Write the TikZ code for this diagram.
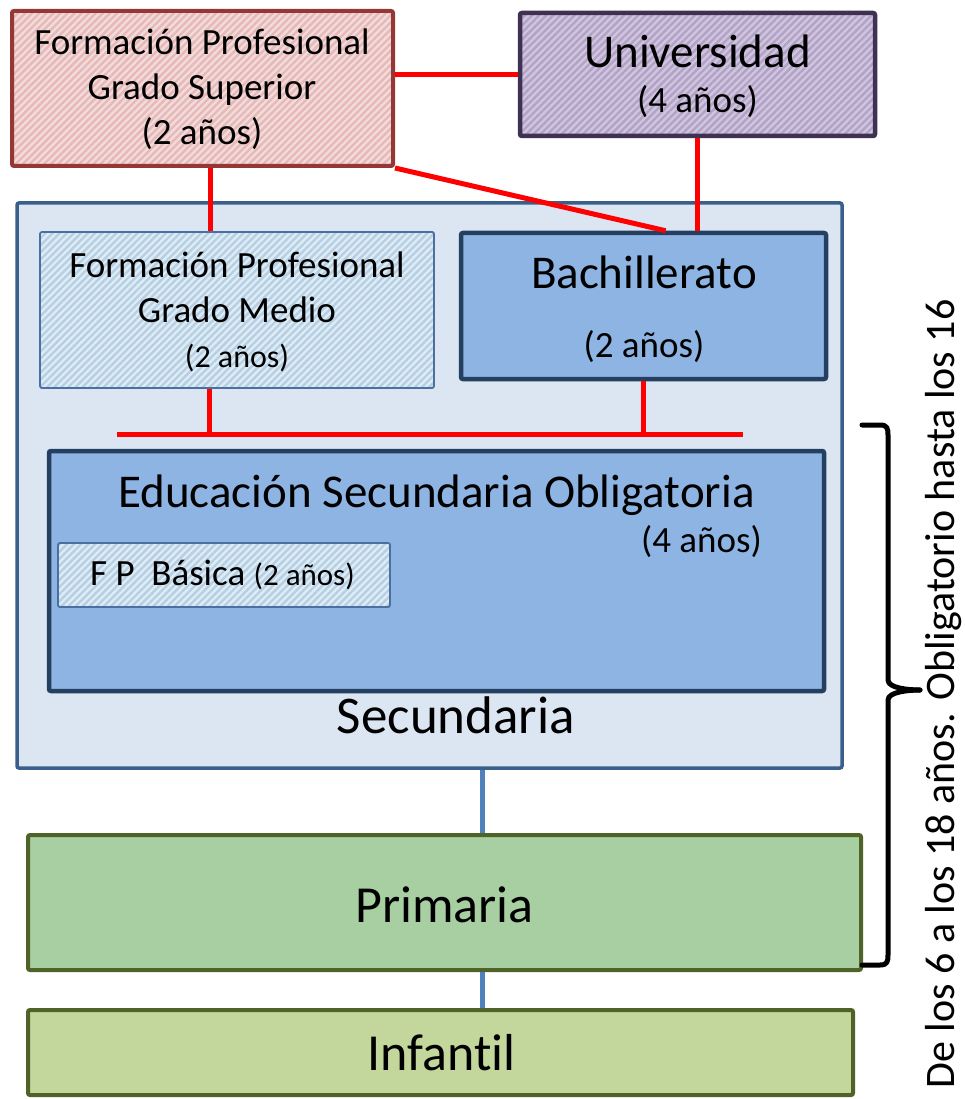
\documentclass[tikz,border=0pt]{standalone}
\usepackage{fontspec}
\setmainfont{Carlito}[Ligatures=NoCommon]
\usetikzlibrary{patterns.meta,calc}
\definecolor{fpsBase}{HTML}{F2DCDB}
\definecolor{fpsStripe}{HTML}{E6B9B8}
\definecolor{fpsLine}{HTML}{953735}
\definecolor{uniBase}{HTML}{CFC6DD}
\definecolor{uniStripe}{HTML}{B3A2C7}
\definecolor{uniLine}{HTML}{3F3151}
\definecolor{fpmBase}{HTML}{DBEEF4}
\definecolor{fpmStripe}{HTML}{B9CDE5}
\definecolor{fpmLine}{HTML}{4A6FA0}
\definecolor{secBase}{HTML}{DCE6F2}
\definecolor{secLine}{HTML}{3A5F8B}
\definecolor{esoBase}{HTML}{8EB4E3}
\definecolor{esoLine}{HTML}{243F60}
\definecolor{primBase}{HTML}{A7CFA1}
\definecolor{infBase}{HTML}{C3D69B}
\definecolor{grnLine}{HTML}{4F6228}
\definecolor{connBlue}{HTML}{4F81BD}
\definecolor{connRed}{HTML}{FF0000}
\newcommand{\fsz}[1]{\fontsize{#1}{#1}\selectfont}
\tikzset{
  box/.style={rectangle, inner sep=0pt, rounded corners=2pt},
  hatched/.style 2 args={preaction={fill=#1}, pattern={Lines[angle=45,distance=5pt,line width=2.4pt]}, pattern color=#2},
  txt/.style={anchor=base, inner sep=0pt, text=black},
  redline/.style={draw=connRed, line width=5pt},
  blueline/.style={draw=connBlue, line width=5pt},
  bracestyle/.style={draw=black, line width=5pt, line join=round, line cap=round}
}
\begin{document}
\begin{tikzpicture}[x=1pt, y=-1pt]
\useasboundingbox (0,0) rectangle (965,1099);
% boxes
\node[box, draw=secLine, line width=3.5pt, fill=secBase, minimum width=825pt, minimum height=565pt] (sec) at (429.5,485.5) {};
\node[box, draw=fpmLine, line width=1.8pt, hatched={fpmBase}{fpmStripe}, minimum width=394pt, minimum height=156pt] (fpm) at (237,310) {};
\node[box, draw=esoLine, line width=4.5pt, fill=esoBase, minimum width=365pt, minimum height=146pt] (bach) at (643.5,306) {};
\node[box, draw=esoLine, line width=4.5pt, fill=esoBase, minimum width=775pt, minimum height=240pt] (eso) at (436.5,571) {};
\node[box, draw=fpmLine, line width=1.8pt, hatched={fpmBase}{fpmStripe}, minimum width=332pt, minimum height=64pt] (fpb) at (224,575) {};
\node[box, draw=fpsLine, line width=4pt, hatched={fpsBase}{fpsStripe}, minimum width=381pt, minimum height=155pt] (fps) at (202.5,88.5) {};
\node[box, draw=uniLine, line width=4.5pt, hatched={uniBase}{uniStripe}, minimum width=355pt, minimum height=123pt] (uni) at (697.5,74.5) {};
\node[box, draw=grnLine, line width=4pt, fill=primBase, minimum width=833pt, minimum height=135pt] (prim) at (444.5,902.5) {};
\node[box, draw=grnLine, line width=4pt, fill=infBase, minimum width=825pt, minimum height=85pt] (inf) at (440.5,1052.5) {};
% texts
\node[txt] (fps1) at (202,55) {\fsz{37}Formación Profesional};
\node[txt] (fps2) at (202,100) {\fsz{37}Grado Superior};
\node[txt] (fps3) at (202,145) {\fsz{37}(2 años)};
\node[txt] (uni1) at (697.5,68) {\fsz{47}Universidad};
\node[txt] (uni2) at (697.5,113) {\fsz{37}(4 años)};
\node[txt] (fpm1) at (237,277) {\fsz{37}Formación Profesional};
\node[txt] (fpm2) at (237,322) {\fsz{37}Grado Medio};
\node[txt] (fpm3) at (237,367) {\fsz{32}(2 años)};
\node[txt] (bach1) at (644,288) {\fsz{47}Bachillerato};
\node[txt] (bach2) at (644,357) {\fsz{37}(2 años)};
\node[txt] (eso1) at (436.5,507) {\fsz{47}Educación Secundaria Obligatoria};
\node[txt, anchor=base east] (eso2) at (762,552) {\fsz{37}(4 años)};
\node[txt, anchor=base west] (fpb1) at (90,585) {\fsz{37}F P\ \ Básica \fsz{31}(2 años)};
\node[txt] (sec1) at (456,733) {\fsz{53}Secundaria};
\node[txt] (prim1) at (444.5,922) {\fsz{52}Primaria};
\node[txt] (inf1) at (441.5,1070) {\fsz{52}Infantil};
\node[txt, rotate=90] (side) at (954,694) {\fsz{42}De los 6 a los 18 años. Obligatorio hasta los 16};
% red connectors
\draw[redline] (fps.east |- uni.west) -- (uni.west);
\coordinate (a1) at ($(fps.south west)!0.52!(fps.south east)$);
\draw[redline] (a1) -- (a1 |- fpm.north);
\draw[redline] (fps.south east) -- ($(bach.north west)!0.56!(bach.north east)$);
\draw[redline] (uni.south) -- (uni.south |- bach.north);
\coordinate (barL) at (117,434);
\coordinate (barR) at (743,434);
\draw[redline] (barL) -- (barR);
\coordinate (m1) at ($(fpm.south west)!0.431!(fpm.south east)$);
\draw[redline] (m1) -- (m1 |- barL);
\draw[redline] (bach.south) -- (bach.south |- barL);
% blue connectors
\coordinate (s1) at ($(sec.south west)!0.564!(sec.south east)$);
\draw[blueline] (s1) -- (s1 |- prim.north);
\draw[blueline] (s1 |- prim.south) -- (s1 |- inf.north);
% brace
\coordinate (bt) at (862,425);
\coordinate (bb) at (862,965);
\coordinate (btip) at (920,690);
\draw[bracestyle] (bt) -- ++(18,0) .. controls +(7,0) and +(0,-7) .. ++(8,10) -- (888,680) .. controls +(0,8) and +(-12,0) .. (btip);
\draw[bracestyle] (bb) -- ++(18,0) .. controls +(7,0) and +(0,7) .. ++(8,-10) -- (888,700) .. controls +(0,-8) and +(-12,0) .. (btip);
\end{tikzpicture}
\end{document}
